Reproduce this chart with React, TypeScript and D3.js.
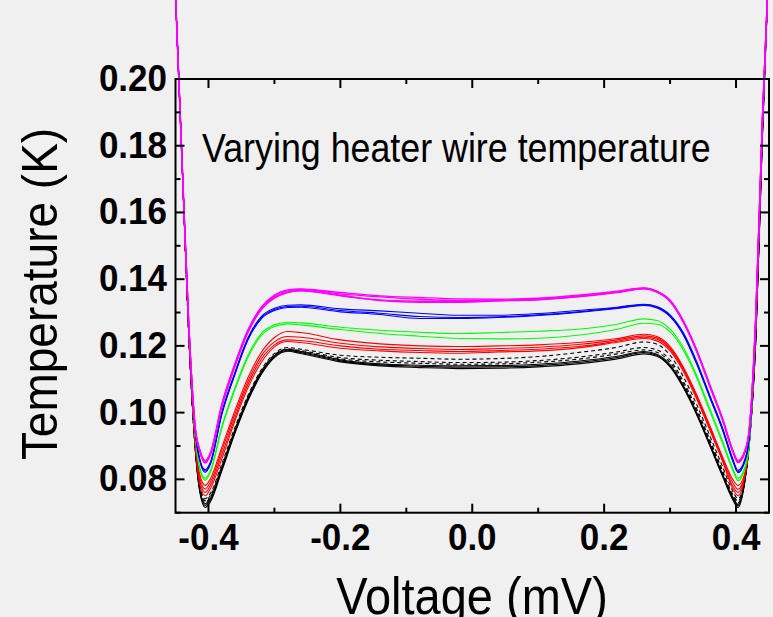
import React from 'react';
import * as d3 from 'd3';

// Bias voltage grid (mV) shared by all curves
const voltage = [-0.45, -0.44, -0.43, -0.42, -0.413, -0.405, -0.397, -0.38, -0.36, -0.34, -0.32, -0.30, -0.28, -0.26, -0.20, -0.14, -0.08, -0.02, 0.04, 0.10, 0.16, 0.22, 0.26, 0.28, 0.30, 0.32, 0.34, 0.36, 0.38, 0.395, 0.403, 0.413, 0.42, 0.43, 0.44, 0.45];

// Temperature (K) traces
const black1 = [0.225, 0.175, 0.124, 0.0892, 0.0768, 0.0727, 0.0743, 0.0831, 0.0944, 0.1043, 0.1121, 0.1171, 0.1190, 0.1183, 0.1158, 0.1146, 0.1142, 0.1140, 0.1141, 0.1145, 0.1154, 0.1169, 0.1183, 0.1175, 0.1143, 0.1081, 0.1001, 0.0908, 0.0813, 0.0747, 0.0725, 0.0792, 0.0905, 0.122, 0.183, 0.236];
const black2 = [0.225, 0.175, 0.124, 0.0890, 0.0764, 0.0722, 0.0738, 0.0828, 0.0941, 0.1040, 0.1118, 0.1168, 0.1187, 0.1180, 0.1155, 0.1143, 0.1139, 0.1136, 0.1137, 0.1141, 0.1150, 0.1165, 0.1180, 0.1172, 0.1140, 0.1078, 0.0998, 0.0905, 0.0810, 0.0743, 0.0721, 0.0790, 0.0904, 0.122, 0.183, 0.236];
const black3 = [0.225, 0.175, 0.124, 0.0888, 0.0760, 0.0716, 0.0733, 0.0824, 0.0937, 0.1036, 0.1114, 0.1165, 0.1184, 0.1177, 0.1152, 0.1140, 0.1135, 0.1132, 0.1133, 0.1137, 0.1146, 0.1161, 0.1176, 0.1169, 0.1137, 0.1075, 0.0995, 0.0902, 0.0807, 0.0739, 0.0716, 0.0788, 0.0902, 0.122, 0.183, 0.236];
const dashed1 = [0.225, 0.175, 0.124, 0.0895, 0.0780, 0.0742, 0.0758, 0.0845, 0.0955, 0.1052, 0.1128, 0.1177, 0.1195, 0.1190, 0.1172, 0.1166, 0.1163, 0.1160, 0.1162, 0.1168, 0.1180, 0.1196, 0.1212, 0.1205, 0.1172, 0.1108, 0.1026, 0.0932, 0.0836, 0.0765, 0.0742, 0.0798, 0.0910, 0.124, 0.184, 0.236];
const dashed2 = [0.225, 0.175, 0.124, 0.0893, 0.0775, 0.0736, 0.0752, 0.0838, 0.0949, 0.1047, 0.1124, 0.1173, 0.1191, 0.1186, 0.1165, 0.1157, 0.1153, 0.1150, 0.1151, 0.1156, 0.1166, 0.1182, 0.1195, 0.1188, 0.1157, 0.1094, 0.1013, 0.0920, 0.0824, 0.0755, 0.0735, 0.0795, 0.0908, 0.124, 0.184, 0.236];
const dashed3 = [0.225, 0.175, 0.124, 0.0891, 0.0771, 0.0731, 0.0747, 0.0834, 0.0945, 0.1044, 0.1121, 0.1170, 0.1188, 0.1183, 0.1161, 0.1152, 0.1148, 0.1145, 0.1146, 0.1151, 0.1160, 0.1176, 0.1188, 0.1181, 0.1150, 0.1087, 0.1006, 0.0914, 0.0818, 0.0750, 0.0730, 0.0793, 0.0906, 0.124, 0.184, 0.236];
const red1 = [0.225, 0.175, 0.125, 0.0918, 0.0813, 0.0782, 0.0802, 0.0895, 0.1005, 0.1105, 0.1180, 0.1225, 0.1243, 0.1240, 0.1218, 0.1206, 0.1200, 0.1198, 0.1200, 0.1203, 0.1210, 0.1222, 0.1235, 0.1228, 0.1198, 0.1137, 0.1055, 0.0962, 0.0865, 0.0800, 0.0782, 0.0815, 0.0915, 0.126, 0.186, 0.236];
const red2 = [0.225, 0.175, 0.125, 0.0912, 0.0803, 0.0771, 0.0792, 0.0885, 0.0995, 0.1095, 0.1170, 0.1212, 0.1228, 0.1226, 0.1208, 0.1197, 0.1192, 0.1189, 0.1192, 0.1196, 0.1204, 0.1218, 0.1230, 0.1224, 0.1194, 0.1133, 0.1051, 0.0958, 0.0861, 0.0790, 0.0770, 0.0810, 0.0913, 0.126, 0.186, 0.236];
const red3 = [0.225, 0.175, 0.125, 0.0906, 0.0794, 0.0761, 0.0782, 0.0872, 0.0984, 0.1085, 0.1160, 0.1203, 0.1218, 0.1216, 0.1200, 0.1190, 0.1186, 0.1183, 0.1186, 0.1190, 0.1198, 0.1214, 0.1226, 0.1220, 0.1190, 0.1129, 0.1047, 0.0954, 0.0857, 0.0780, 0.0761, 0.0807, 0.0911, 0.126, 0.186, 0.236];
const red4 = [0.225, 0.175, 0.125, 0.0900, 0.0784, 0.0751, 0.0772, 0.0860, 0.0975, 0.1075, 0.1150, 0.1197, 0.1213, 0.1210, 0.1193, 0.1185, 0.1180, 0.1178, 0.1182, 0.1185, 0.1194, 0.1211, 0.1222, 0.1215, 0.1185, 0.1124, 0.1042, 0.0949, 0.0852, 0.0772, 0.0751, 0.0805, 0.0910, 0.126, 0.186, 0.236];
const green1 = [0.225, 0.175, 0.126, 0.0930, 0.0833, 0.0803, 0.0826, 0.0957, 0.1074, 0.1172, 0.1237, 0.1263, 0.1271, 0.1269, 0.1256, 0.1247, 0.1241, 0.1237, 0.1240, 0.1244, 0.1250, 0.1265, 0.1281, 0.1276, 0.1250, 0.1195, 0.1113, 0.1013, 0.0913, 0.0833, 0.0803, 0.0834, 0.0907, 0.127, 0.186, 0.236];
const green2 = [0.225, 0.175, 0.126, 0.0927, 0.0829, 0.0797, 0.0821, 0.0952, 0.1068, 0.1166, 0.1231, 0.1258, 0.1266, 0.1263, 0.1249, 0.1237, 0.1229, 0.1222, 0.1221, 0.1223, 0.1232, 0.1250, 0.1268, 0.1265, 0.1242, 0.1188, 0.1106, 0.1006, 0.0906, 0.0828, 0.0796, 0.0828, 0.0902, 0.127, 0.186, 0.236];
const blue1 = [0.225, 0.175, 0.126, 0.0945, 0.0860, 0.0829, 0.0852, 0.0999, 0.1120, 0.1225, 0.1288, 0.1313, 0.1322, 0.1323, 0.1311, 0.1305, 0.1298, 0.1292, 0.1292, 0.1297, 0.1306, 0.1316, 0.1325, 0.1318, 0.1293, 0.1240, 0.1155, 0.1053, 0.0952, 0.0862, 0.0827, 0.0858, 0.0930, 0.128, 0.187, 0.236];
const blue2 = [0.225, 0.175, 0.126, 0.0943, 0.0857, 0.0825, 0.0848, 0.0995, 0.1116, 0.1221, 0.1284, 0.1309, 0.1318, 0.1319, 0.1306, 0.1298, 0.1288, 0.1285, 0.1287, 0.1293, 0.1302, 0.1314, 0.1323, 0.1316, 0.1290, 0.1236, 0.1150, 0.1049, 0.0948, 0.0858, 0.0823, 0.0854, 0.0926, 0.128, 0.187, 0.236];
const blue3 = [0.225, 0.175, 0.126, 0.0941, 0.0854, 0.0821, 0.0845, 0.0992, 0.1113, 0.1218, 0.1281, 0.1306, 0.1315, 0.1316, 0.1302, 0.1294, 0.1282, 0.1282, 0.1285, 0.1291, 0.1300, 0.1312, 0.1321, 0.1314, 0.1288, 0.1233, 0.1147, 0.1046, 0.0945, 0.0855, 0.0820, 0.0851, 0.0923, 0.128, 0.187, 0.236];
const magenta1 = [0.225, 0.175, 0.127, 0.0955, 0.0888, 0.0856, 0.0880, 0.1024, 0.1146, 0.1249, 0.1316, 0.1352, 0.1368, 0.1371, 0.1360, 0.1350, 0.1345, 0.1341, 0.1340, 0.1343, 0.1352, 0.1364, 0.1374, 0.1364, 0.1337, 0.1276, 0.1190, 0.1085, 0.0980, 0.0888, 0.0856, 0.0884, 0.0950, 0.129, 0.188, 0.236];
const magenta2 = [0.225, 0.175, 0.127, 0.0953, 0.0886, 0.0854, 0.0878, 0.1021, 0.1143, 0.1246, 0.1313, 0.1349, 0.1365, 0.1369, 0.1356, 0.1347, 0.1340, 0.1336, 0.1337, 0.1340, 0.1350, 0.1362, 0.1373, 0.1363, 0.1336, 0.1274, 0.1188, 0.1083, 0.0978, 0.0886, 0.0854, 0.0882, 0.0948, 0.129, 0.188, 0.236];
const magenta3 = [0.225, 0.175, 0.127, 0.0951, 0.0884, 0.0851, 0.0875, 0.1018, 0.1140, 0.1243, 0.1310, 0.1345, 0.1361, 0.1365, 0.1350, 0.1338, 0.1334, 0.1333, 0.1336, 0.1339, 0.1348, 0.1361, 0.1372, 0.1362, 0.1334, 0.1272, 0.1186, 0.1081, 0.0976, 0.0884, 0.0852, 0.0880, 0.0946, 0.129, 0.188, 0.236];
const magenta4 = [0.225, 0.175, 0.127, 0.0950, 0.0882, 0.0849, 0.0873, 0.1016, 0.1138, 0.1241, 0.1308, 0.1343, 0.1360, 0.1366, 0.1352, 0.1336, 0.1331, 0.1331, 0.1335, 0.1338, 0.1347, 0.1360, 0.1371, 0.1361, 0.1333, 0.1271, 0.1185, 0.1080, 0.0975, 0.0883, 0.0850, 0.0878, 0.0944, 0.129, 0.188, 0.236];

// Ticks
const yMajorTicks = [0.08, 0.10, 0.12, 0.14, 0.16, 0.18, 0.20];
const yTickLabels = ['0.08', '0.10', '0.12', '0.14', '0.16', '0.18', '0.20'];
const yMinorTicks = [0.07, 0.09, 0.11, 0.13, 0.15, 0.17, 0.19];
const xMajorTicks = [-0.4, -0.2, 0.0, 0.2, 0.4];
const xTickLabels = ['-0.4', '-0.2', '0.0', '0.2', '0.4'];
const xMinorTicks = [-0.3, -0.1, 0.1, 0.3];

const xTitle = 'Voltage (mV)';
const yTitle = 'Temperature (K)';
const annotation = 'Varying heater wire temperature';

const series = [
  { values: black1, color: '#000000', dash: null as string | null },
  { values: black2, color: '#000000', dash: null },
  { values: black3, color: '#000000', dash: null },
  { values: dashed1, color: '#000000', dash: '4,3' },
  { values: dashed2, color: '#000000', dash: '4,3' },
  { values: dashed3, color: '#000000', dash: '4,3' },
  { values: red1, color: '#ff0000', dash: null },
  { values: red2, color: '#ff0000', dash: null },
  { values: red3, color: '#ff0000', dash: null },
  { values: red4, color: '#ff0000', dash: null },
  { values: green1, color: '#00ff00', dash: null },
  { values: green2, color: '#00ff00', dash: null },
  { values: blue1, color: '#0000ff', dash: null },
  { values: blue2, color: '#0000ff', dash: null },
  { values: blue3, color: '#0000ff', dash: null },
  { values: magenta1, color: '#ff00ff', dash: null },
  { values: magenta2, color: '#ff00ff', dash: null },
  { values: magenta3, color: '#ff00ff', dash: null },
  { values: magenta4, color: '#ff00ff', dash: null },
];

export default function App() {
  const W = 773;
  const H = 617;
  const left = 175.5;
  const right = 769;
  const top = 79;
  const bottom = 512.7;
  const x = d3.scaleLinear().domain([-0.45, 0.45]).range([left, right]);
  const y = d3.scaleLinear().domain([0.07, 0.2]).range([bottom, top]);
  const line = d3
    .line<number>()
    .x((_, i) => x(voltage[i]))
    .y((d) => y(d))
    .curve(d3.curveMonotoneX);

  const font = 'Liberation Sans, Arial, Helvetica, sans-serif';
  const majorLen = 9;
  const minorLen = 5;

  return (
    <svg
      width={W}
      height={H}
      style={{ position: 'absolute', left: 0, top: 0, display: 'block' }}
    >
      <defs>
        <clipPath id="plotClip">
          <rect x={left} y={-200} width={right - left} height={bottom + 200} />
        </clipPath>
      </defs>
      <rect x={0} y={0} width={W} height={H} fill="#f0f0f0" />

      <g clipPath="url(#plotClip)">
        {series.map((s, i) => (
          <path
            key={i}
            d={line(s.values) || ''}
            fill="none"
            stroke={s.color}
            strokeWidth={s.color === '#ff00ff' ? 1.4 : 1.1}
            strokeDasharray={s.dash || undefined}
          />
        ))}
      </g>

      {/* frame */}
      <rect x={left} y={top} width={right - left} height={bottom - top} fill="none" stroke="#000" strokeWidth={2} />

      {/* y ticks */}
      {yMajorTicks.map((t, i) => (
        <g key={'ym' + i}>
          <line x1={left} x2={left + majorLen} y1={y(t)} y2={y(t)} stroke="#000" strokeWidth={2} />
          <line x1={right} x2={right - majorLen} y1={y(t)} y2={y(t)} stroke="#000" strokeWidth={2} />
          <text
            transform={`translate(167,${y(t) + 12}) scale(1,1.06)`}
            textAnchor="end"
            fontFamily={font}
            fontWeight="bold"
            fontSize={35}
            fill="#000"
          >
            {yTickLabels[i]}
          </text>
        </g>
      ))}
      {yMinorTicks.map((t, i) => (
        <g key={'yn' + i}>
          <line x1={left} x2={left + minorLen} y1={y(t)} y2={y(t)} stroke="#000" strokeWidth={2} />
          <line x1={right} x2={right - minorLen} y1={y(t)} y2={y(t)} stroke="#000" strokeWidth={2} />
        </g>
      ))}

      {/* x ticks */}
      {xMajorTicks.map((t, i) => (
        <g key={'xm' + i}>
          <line x1={x(t)} x2={x(t)} y1={bottom} y2={bottom - majorLen} stroke="#000" strokeWidth={2} />
          <line x1={x(t)} x2={x(t)} y1={top} y2={top + majorLen} stroke="#000" strokeWidth={2} />
          <text
            transform={`translate(${x(t)},550) scale(1,1.06)`}
            textAnchor="middle"
            fontFamily={font}
            fontWeight="bold"
            fontSize={35}
            fill="#000"
          >
            {xTickLabels[i]}
          </text>
        </g>
      ))}
      {xMinorTicks.map((t, i) => (
        <g key={'xn' + i}>
          <line x1={x(t)} x2={x(t)} y1={bottom} y2={bottom - minorLen} stroke="#000" strokeWidth={2} />
          <line x1={x(t)} x2={x(t)} y1={top} y2={top + minorLen} stroke="#000" strokeWidth={2} />
        </g>
      ))}

      {/* axis titles */}
      <text
        transform={`translate(57,294) rotate(-90) scale(1,1.1)`}
        textAnchor="middle"
        fontFamily={font}
        fontSize={46}
        fill="#000"
      >
        {yTitle}
      </text>
      <text
        transform={`translate(472,614) scale(1,1.1)`}
        textAnchor="middle"
        fontFamily={font}
        fontSize={47}
        fill="#000"
      >
        {xTitle}
      </text>

      {/* annotation */}
      <text
        transform={`translate(202,162) scale(1,1.12)`}
        fontFamily={font}
        fontSize={35.8}
        fill="#000"
      >
        {annotation}
      </text>
    </svg>
  );
}
